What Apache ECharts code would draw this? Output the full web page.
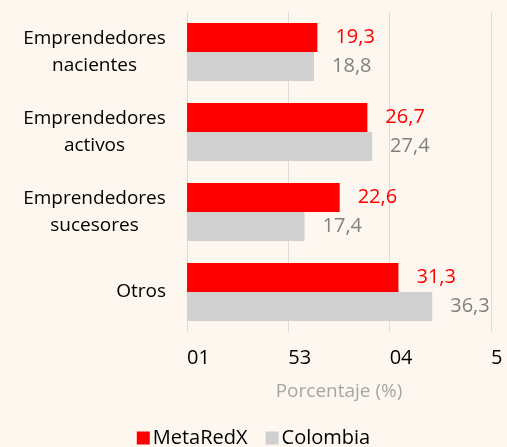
<!DOCTYPE html>
<html>
<head>
<meta charset="utf-8">
<script src="https://cdn.jsdelivr.net/npm/echarts@6/dist/echarts.min.js"></script>
<style>
html,body{margin:0;padding:0;background:#FDF7F0;}
#c{width:507px;height:447px;}
</style>
</head>
<body>
<div id="c"></div>
<script>
const categories = ["Emprendedores\nnacientes", "Emprendedores\nactivos", "Emprendedores\nsucesores", "Otros"];
const metaRedX = [19.3, 26.7, 22.6, 31.3];
const colombia = [18.8, 27.4, 17.4, 36.3];
const tickLabels = ["01", "53", "04", "5"];
const axisTitle = "Porcentaje (%)";
const seriesNames = ["MetaRedX", "Colombia"];

const FONT = "'Open Sans', 'Noto Sans', sans-serif";
const chart = echarts.init(document.getElementById('c'), null, {renderer: 'canvas'});
const fmt = p => p.value.toFixed(1).replace('.', ',');
chart.setOption({
  backgroundColor: '#FDF7F0',
  animation: false,
  textStyle: {fontFamily: FONT},
  grid: {left: 187, right: 16, top: 12, bottom: 115, containLabel: false},
  legend: {
    data: seriesNames,
    bottom: -6,
    left: 'center',
    itemWidth: 13, itemHeight: 13, itemGap: 18,
    icon: 'rect',
    textStyle: {fontSize: 20, color: '#000', fontFamily: FONT, padding: [0,0,0,-2]}
  },
  xAxis: {
    type: 'value', min: 0, max: 45, interval: 15,
    name: axisTitle, nameLocation: 'middle', nameGap: 50,
    nameTextStyle: {fontSize: 19, color: '#A6A6A6', fontFamily: FONT},
    axisLine: {show: false}, axisTick: {show: false},
    splitLine: {show: true, lineStyle: {color: '#DCDCDC', width: 1}},
    axisLabel: {
      fontSize: 20, color: '#000', margin: 16, align: 'left', fontFamily: FONT,
      formatter: v => tickLabels[Math.round(v / 15)]
    }
  },
  yAxis: {
    type: 'category', data: categories, inverse: true,
    axisLine: {show: false}, axisTick: {show: false},
    axisLabel: {
      fontSize: 19, color: '#000', lineHeight: 27, margin: 21, align: 'right', fontFamily: FONT,
      formatter: v => v.indexOf('\n') >= 0
        ? v.split('\n').map(s => '{w|' + s + '}').join('\n')
        : '{n|' + v + '}',
      rich: {
        w: {width: 143, align: 'center', fontSize: 19, lineHeight: 27, color: '#000', fontFamily: FONT},
        n: {fontSize: 19, lineHeight: 27, color: '#000', fontFamily: FONT}
      }
    }
  },
  series: [
    {
      name: seriesNames[0], type: 'bar', data: metaRedX,
      barWidth: 29, barGap: '0%',
      itemStyle: {color: '#FF0000'},
      label: {show: true, position: 'right', distance: 18, color: '#FF0000', fontSize: 20, fontFamily: FONT, formatter: fmt}
    },
    {
      name: seriesNames[1], type: 'bar', data: colombia,
      barWidth: 29,
      itemStyle: {color: '#D0D0D0'},
      label: {show: true, position: 'right', distance: 18, color: '#808080', fontSize: 20, fontFamily: FONT, formatter: fmt}
    }
  ]
});
</script>
</body>
</html>
